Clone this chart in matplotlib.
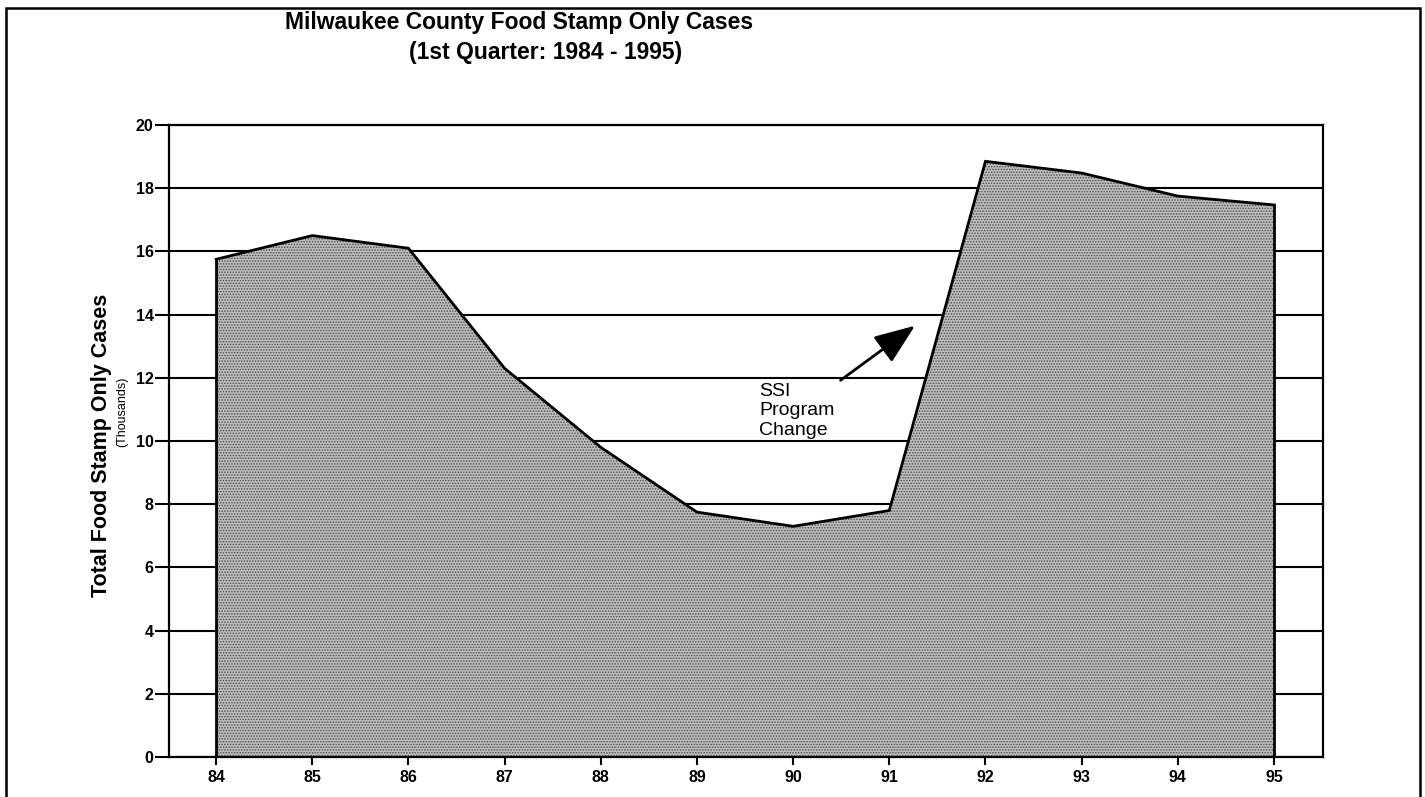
import matplotlib
matplotlib.use("Agg")
import matplotlib.pyplot as plt
from matplotlib.patches import Rectangle

plt.rcParams['font.family'] = ['Liberation Sans', 'DejaVu Sans']
plt.rcParams['hatch.linewidth'] = 0.7

# ---- data ----
years = [84, 85, 86, 87, 88, 89, 90, 91, 92, 93, 94, 95]
cases_thousands = [15.75, 16.5, 16.1, 12.3, 9.8, 7.75, 7.3, 7.8, 18.85, 18.48, 17.75, 17.47]
year_labels = [str(y) for y in years]
y_ticks = [0, 2, 4, 6, 8, 10, 12, 14, 16, 18, 20]

title_line1 = "Milwaukee County Food Stamp Only Cases"
title_line2 = "(1st Quarter: 1984 - 1995)"
ylabel_main = "Total Food Stamp Only Cases"
ylabel_sub = "(Thousands)"
annot_text = "SSI\nProgram\nChange"
annot_tail = (90.47, 11.87)
annot_head = (91.29, 13.70)

W, H = 1425, 797
fig = plt.figure(figsize=(W / 100, H / 100), dpi=100)
fig.patch.set_facecolor('white')

# outer frame
fig.patches.append(Rectangle((6 / W, -0.02), (1420 - 6) / W, 1.02 - 8 / H,
                             transform=fig.transFigure, fill=False,
                             edgecolor='black', linewidth=1.8, zorder=0))

ax = fig.add_axes([169 / W, 1 - 757 / H, (1323 - 169) / W, (757 - 125) / H])
ax.set_xlim(83.51, 95.51)
ax.set_ylim(0, 20)

# gridlines
for yv in y_ticks:
    ax.axhline(yv, color='black', linewidth=1.5, zorder=1)

ax.fill_between(years, cases_thousands, 0, facecolor='#bdbdbd', edgecolor='#4a4a4a',
                hatch='......', linewidth=0, zorder=2)
ax.plot(years, cases_thousands, color='black', linewidth=2.0, zorder=3,
        solid_joinstyle='miter')
ax.plot([years[0], years[0]], [0, cases_thousands[0]], color='black', linewidth=2.0, zorder=3)
ax.plot([years[-1], years[-1]], [0, cases_thousands[-1]], color='black', linewidth=2.0, zorder=3)

for s in ax.spines.values():
    s.set_linewidth(1.6)
    s.set_color('black')
    s.set_zorder(4)

ax.set_xticks(years)
ax.set_xticklabels(year_labels, fontweight='bold')
ax.set_yticks(y_ticks)
ax.set_yticklabels([str(v) for v in y_ticks], fontweight='bold')
ax.tick_params(axis='y', direction='out', length=10, width=1.5, pad=1, labelsize=11.5)
ax.tick_params(axis='x', direction='out', length=6, width=1.5, pad=3, labelsize=11.5)

# annotation
ax.annotate('', xy=annot_head, xytext=annot_tail,
            arrowprops=dict(arrowstyle='-|>,head_length=1.8,head_width=0.7',
                            color='black', linewidth=2.0, mutation_scale=14),
            zorder=5)
ax.text(89.65, 11.85, annot_text, ha='left', va='top', fontsize=14,
        linespacing=1.2, zorder=5)

# titles
fig.text(519 / W, 1 - 22 / H, title_line1, ha='center', va='center',
         fontsize=16.5, fontweight='bold')
fig.text(546 / W, 1 - 52 / H, title_line2, ha='center', va='center',
         fontsize=16.5, fontweight='bold')

# y labels
fig.text(102 / W, 1 - 445 / H, ylabel_main, rotation=90, ha='center', va='center',
         fontsize=15.5, fontweight='bold')
fig.text(122 / W, 1 - 412 / H, ylabel_sub, rotation=90, ha='center', va='center',
         fontsize=9)

fig.savefig('out.png', dpi=100, facecolor='white')
